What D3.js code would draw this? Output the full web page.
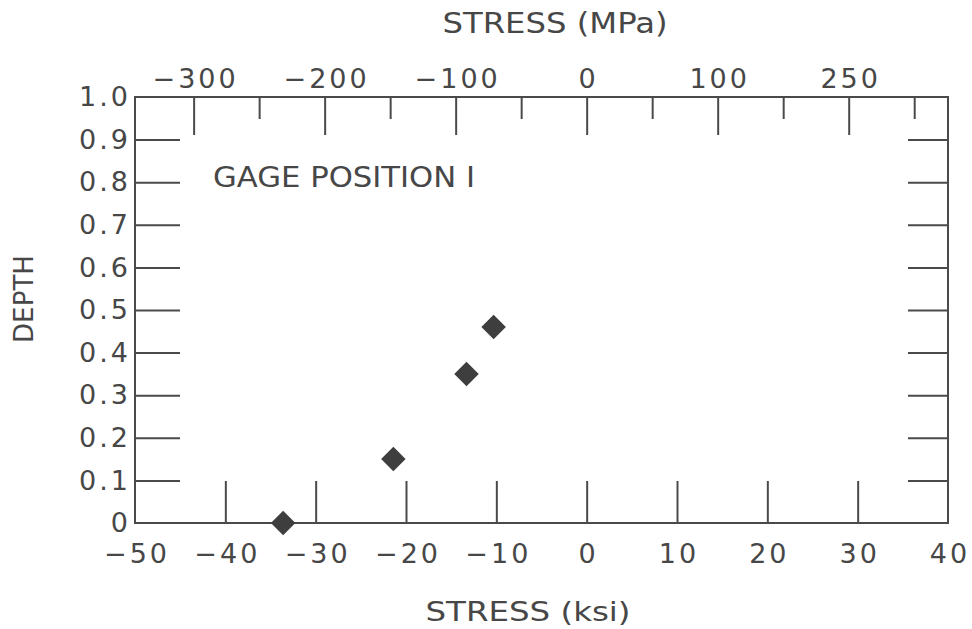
<!DOCTYPE html>
<html>
<head>
<meta charset="utf-8">
<script src="https://cdn.jsdelivr.net/npm/d3@7"></script>
<style>
  body { margin: 0; background: #fff; }
  text { font-family: "DejaVu Sans", sans-serif; fill: #474747; }
</style>
</head>
<body>
<script>
// stress (ksi) vs normalised depth, gage position 1
const stressKsi = [-33.6, -21.4, -13.3, -10.3];
const depth = [0, 0.15, 0.35, 0.46];

const ksiTicks = [-50, -40, -30, -20, -10, 0, 10, 20, 30, 40];
const depthTicks = [0, 0.1, 0.2, 0.3, 0.4, 0.5, 0.6, 0.7, 0.8, 0.9, 1.0];
const mpaMajor = [-300, -200, -100, 0, 100, 200];
const mpaMajorLabels = ["\u2212300", "\u2212200", "\u2212100", "0", "100", "250"];
const mpaMinor = [-250, -150, -50, 50, 150, 250];

const width = 972, height = 629;
const ink = "#4a4a4a";

const svg = d3.select("body").append("svg")
  .attr("width", width)
  .attr("height", height);

const x = d3.scaleLinear().domain([-50, 40]).range([135, 948]);
const xMpa = d3.scaleLinear().domain([-50 * 6.895, 40 * 6.895]).range([135, 948]);
const y = d3.scaleLinear().domain([0, 1]).range([523, 97]);

// frame
svg.append("rect")
  .attr("x", x(-50)).attr("y", y(1))
  .attr("width", x(40) - x(-50)).attr("height", y(0) - y(1))
  .attr("fill", "none").attr("stroke", ink).attr("stroke-width", 2);

function styleLabels(g, shift) {
  g.selectAll(".tick text")
    .attr("font-size", 27).attr("letter-spacing", 3)
    .attr("dx", shift)
    .attr("fill", "#474747").attr("font-family", "DejaVu Sans");
}

// bottom axis (ksi)
const gb = svg.append("g")
  .attr("transform", `translate(0,${y(0)})`)
  .call(d3.axisBottom(x).tickValues(ksiTicks).tickSizeInner(-42).tickSizeOuter(0).tickPadding(21)
    .tickFormat(d => d3.format("")(d)));
gb.select(".domain").remove();
gb.selectAll(".tick line").attr("stroke", ink).attr("stroke-width", 2)
  .filter(d => d === -50 || d === 40).remove();
styleLabels(gb, 1.5);

// left axis (depth)
const gl = svg.append("g")
  .attr("transform", `translate(${x(-50)},0)`)
  .call(d3.axisLeft(y).tickValues(depthTicks).tickSizeInner(-45).tickSizeOuter(0).tickPadding(6)
    .tickFormat(d => d === 0 ? "0" : d3.format(".1f")(d)));
gl.select(".domain").remove();
gl.selectAll(".tick line").attr("stroke", ink).attr("stroke-width", 2)
  .filter(d => d === 0 || d === 1).remove();
styleLabels(gl, 2);

// right ticks
const gr = svg.append("g")
  .attr("transform", `translate(${x(40)},0)`)
  .call(d3.axisRight(y).tickValues(depthTicks.slice(1, -1)).tickSizeInner(-40).tickSizeOuter(0).tickFormat(""));
gr.select(".domain").remove();
gr.selectAll(".tick line").attr("stroke", ink).attr("stroke-width", 2);

// top axis (MPa)
const gt = svg.append("g")
  .attr("transform", `translate(0,${y(1)})`)
  .call(d3.axisTop(xMpa).tickValues(mpaMajor).tickSizeInner(-38).tickSizeOuter(0).tickPadding(9)
    .tickFormat((d, i) => mpaMajorLabels[i]));
gt.select(".domain").remove();
gt.selectAll(".tick line").attr("stroke", ink).attr("stroke-width", 2);
styleLabels(gt, 1.5);

const gtm = svg.append("g")
  .attr("transform", `translate(0,${y(1)})`)
  .call(d3.axisTop(xMpa).tickValues(mpaMinor).tickSizeInner(-22).tickSizeOuter(0).tickFormat(""));
gtm.select(".domain").remove();
gtm.selectAll(".tick line").attr("stroke", ink).attr("stroke-width", 2);

// points
const diamond = d3.symbol().type(d3.symbolSquare).size(300);
svg.append("g").selectAll("path")
  .data(stressKsi)
  .join("path")
  .attr("d", diamond)
  .attr("transform", (d, i) => `translate(${x(d)},${y(depth[i])}) rotate(45)`)
  .attr("fill", "#3e3e3e");

// titles
svg.append("text")
  .attr("x", 555).attr("y", 33)
  .attr("text-anchor", "middle").attr("font-size", 28)
  .attr("textLength", 225).attr("lengthAdjust", "spacingAndGlyphs")
  .text("STRESS (MPa)");

svg.append("text")
  .attr("x", 528).attr("y", 621)
  .attr("text-anchor", "middle").attr("font-size", 26)
  .attr("textLength", 205).attr("lengthAdjust", "spacingAndGlyphs")
  .text("STRESS (ksi)");

svg.append("text")
  .attr("transform", "translate(33,299) rotate(-90)")
  .attr("text-anchor", "middle").attr("font-size", 27)
  .attr("textLength", 88).attr("lengthAdjust", "spacingAndGlyphs")
  .text("DEPTH");

svg.append("text")
  .attr("x", 213).attr("y", 187)
  .attr("font-size", 28)
  .attr("textLength", 262).attr("lengthAdjust", "spacingAndGlyphs")
  .text("GAGE POSITION I");
</script>
</body>
</html>
